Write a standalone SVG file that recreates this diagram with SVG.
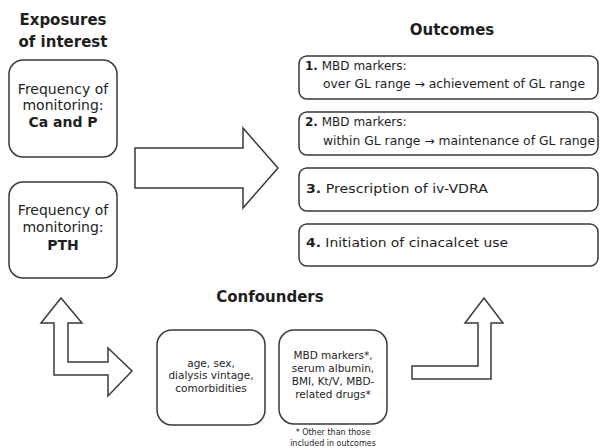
<svg xmlns="http://www.w3.org/2000/svg" width="601" height="448" viewBox="0 0 601 448">
<style>
.box{fill:#fff;stroke:#3a3a3a;stroke-width:1.5}
.arr{fill:#fff;stroke:#3a3a3a;stroke-width:1.5;stroke-linejoin:miter}
text{font-family:"DejaVu Sans",Verdana,sans-serif;fill:#1e1e1e}
.title{font-size:15px;font-weight:bold;text-anchor:middle}
.exp{font-size:14px;text-anchor:middle}
.b{font-weight:bold}
.out{font-size:12px}
.conf{font-size:10.5px;text-anchor:middle}
.note{font-size:8px;text-anchor:middle}
</style>
<rect width="601" height="448" fill="#fff"/>
<text class="title" x="63" y="25">Exposures</text>
<text class="title" x="63" y="47">of interest</text>
<text class="title" x="452" y="35">Outcomes</text>
<text class="title" x="270" y="302">Confounders</text>

<g id="exp-ca-p">
<rect class="box" x="9" y="60" width="108" height="97" rx="14"/>
<text class="exp" x="63" y="94">Frequency of</text>
<text class="exp" x="63" y="110">monitoring:</text>
<text class="exp b" x="63" y="127">Ca and P</text>
</g>
<g id="exp-pth">
<rect class="box" x="9" y="182" width="108" height="96" rx="14"/>
<text class="exp" x="63" y="215">Frequency of</text>
<text class="exp" x="63" y="232">monitoring:</text>
<text class="exp b" x="63" y="250">PTH</text>
</g>

<g id="out1">
<rect class="box" x="299" y="56" width="299" height="43" rx="8"/>
<text class="out" x="305" y="70"><tspan class="b">1.</tspan> MBD markers:</text>
<text class="out" x="323" y="88" textLength="262" lengthAdjust="spacingAndGlyphs">over GL range → achievement of GL range</text>
</g>
<g id="out2">
<rect class="box" x="299" y="112" width="299" height="43" rx="8"/>
<text class="out" x="305" y="126"><tspan class="b">2.</tspan> MBD markers:</text>
<text class="out" x="323" y="145" textLength="272" lengthAdjust="spacingAndGlyphs">within GL range → maintenance of GL range</text>
</g>
<g id="out3">
<rect class="box" x="299" y="168" width="299" height="43" rx="8"/>
<text class="out" x="306" y="193" textLength="182" lengthAdjust="spacingAndGlyphs"><tspan class="b">3.</tspan> Prescription of iv-VDRA</text>
</g>
<g id="out4">
<rect class="box" x="299" y="224" width="299" height="42" rx="8"/>
<text class="out" x="306" y="247" textLength="202" lengthAdjust="spacingAndGlyphs"><tspan class="b">4.</tspan> Initiation of cinacalcet use</text>
</g>

<g id="conf-demo">
<rect class="box" x="157" y="330" width="108" height="95" rx="15"/>
<text class="conf" x="211" y="367">age, sex,</text>
<text class="conf" x="211" y="379">dialysis vintage,</text>
<text class="conf" x="211" y="392">comorbidities</text>
</g>
<g id="conf-clin">
<rect class="box" x="279" y="330" width="108" height="94" rx="15"/>
<text class="conf" x="333" y="359">MBD markers*,</text>
<text class="conf" x="333" y="372">serum albumin,</text>
<text class="conf" x="333" y="385">BMI, Kt/V, MBD-</text>
<text class="conf" x="333" y="398">related drugs*</text>
<text class="note" x="333" y="435">* Other than those</text>
<text class="note" x="333" y="446">included in outcomes</text>
</g>

<g id="connectors">
<polygon class="arr" points="135,148 243,148 243,128 278,168 243,208 243,188 135,188"/>
<polygon class="arr" points="61,298 82,323 68,323 68,362 108,362 108,348 132,371 108,396 108,375 54,375 54,323 41,323"/>
<polygon class="arr" points="412,366 478,366 478,323 465,323 484,298 503,323 491,323 491,379 412,379"/>
</g>
</svg>
